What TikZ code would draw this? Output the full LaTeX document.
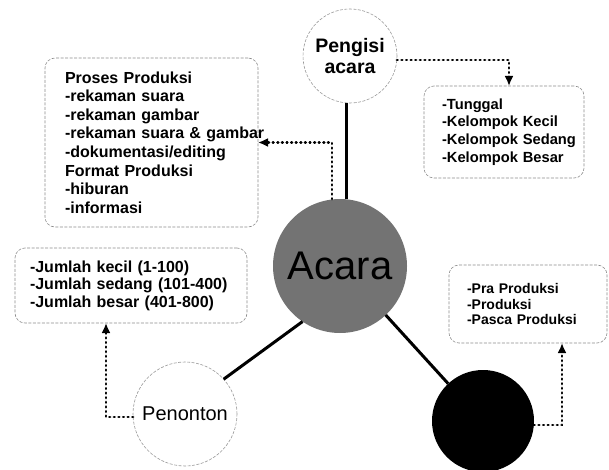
\documentclass[tikz,border=0pt]{standalone}
\usepackage{fontspec}
\setmainfont{Liberation Sans}
\usetikzlibrary{arrows.meta}
\begin{document}
\begin{tikzpicture}[x=1pt,y=-1pt,
  every node/.style={outer sep=0pt},
  infobox/.style={draw=black!45, line width=0.6pt, dash pattern=on 3pt off 1.5pt, rounded corners=10pt, align=left, inner ysep=0pt},
  faintcircle/.style={circle, draw=black!40, line width=0.6pt, dash pattern=on 3pt off 1.5pt, inner sep=0pt, align=center},
  solidlink/.style={line width=3pt, black},
  dotlink/.style={line width=2.8pt, line cap=round, dash pattern=on 0.6pt off 4pt, -{Latex[length=10pt,width=9pt]}}
]
\useasboundingbox (0,0) rectangle (609,470);

% info boxes
\node[infobox, text width=173pt, inner xsep=20pt, minimum height=169pt,
      font=\bfseries\fontsize{16}{18.6}\selectfont] (proses) at (151.5,142.5)
  {\mbox{Proses Produksi}\\\mbox{-rekaman suara}\\\mbox{-rekaman gambar}\\\mbox{-rekaman suara \& gambar}\\\mbox{-dokumentasi/editing}\\\mbox{Format Produksi}\\\mbox{-hiburan}\\\mbox{-informasi}};

\node[infobox, text width=124pt, inner xsep=18pt, minimum height=92pt,
      font=\bfseries\fontsize{14.7}{17.7}\selectfont] (kelompok) at (504,132)
  {\mbox{-Tunggal}\\\mbox{-Kelompok Kecil}\\\mbox{-Kelompok Sedang}\\\mbox{-Kelompok Besar}};

\node[infobox, text width=202pt, inner xsep=15pt, minimum height=75pt,
      font=\bfseries\fontsize{16}{17.5}\selectfont] (jumlah) at (131,285.5)
  {\mbox{-Jumlah kecil (1-100)}\\\mbox{-Jumlah sedang (101-400)}\\\mbox{-Jumlah besar (401-800)}};

\node[infobox, text width=122pt, inner xsep=18pt, minimum height=78pt,
      font=\bfseries\fontsize{14}{15.5}\selectfont] (pra) at (528,304)
  {\mbox{-Pra Produksi}\\\mbox{-Produksi}\\\mbox{-Pasca Produksi}};

% circles
\node[faintcircle, minimum size=94pt, font=\bfseries\fontsize{19.5}{21}\selectfont] (pengisi) at (350,56) {Pengisi\\acara};
\node[circle, fill=black!55, minimum size=134pt, inner sep=0pt, font=\fontsize{40}{40}\selectfont] (acara) at (340,266) {Acara};
\node[faintcircle, minimum size=104pt, font=\fontsize{20}{20}\selectfont] (penonton) at (185,414) {Penonton};
\node[circle, fill=black, minimum size=102pt, inner sep=0pt] (hitam) at (483,421) {};

% solid links
\draw[solidlink] ([xshift=-4pt]pengisi.south) -- ([xshift=-4pt]pengisi.south |- acara.north);
\draw[solidlink] (acara.236) -- (penonton.42);
\draw[solidlink] (acara.313) -- (hitam.133);

% dotted arrows
\draw[dotlink] ([xshift=-8pt]acara.north) |- (proses.east);
\draw[dotlink] ([yshift=-4pt]pengisi.east) -| ([xshift=5pt]kelompok.north);
\draw[dotlink] ([yshift=-3pt]penonton.west) -| ([xshift=-25pt]jumlah.south);
\draw[dotlink] ([yshift=-4pt]hitam.east) -| ([xshift=34pt]pra.south);
\end{tikzpicture}
\end{document}
